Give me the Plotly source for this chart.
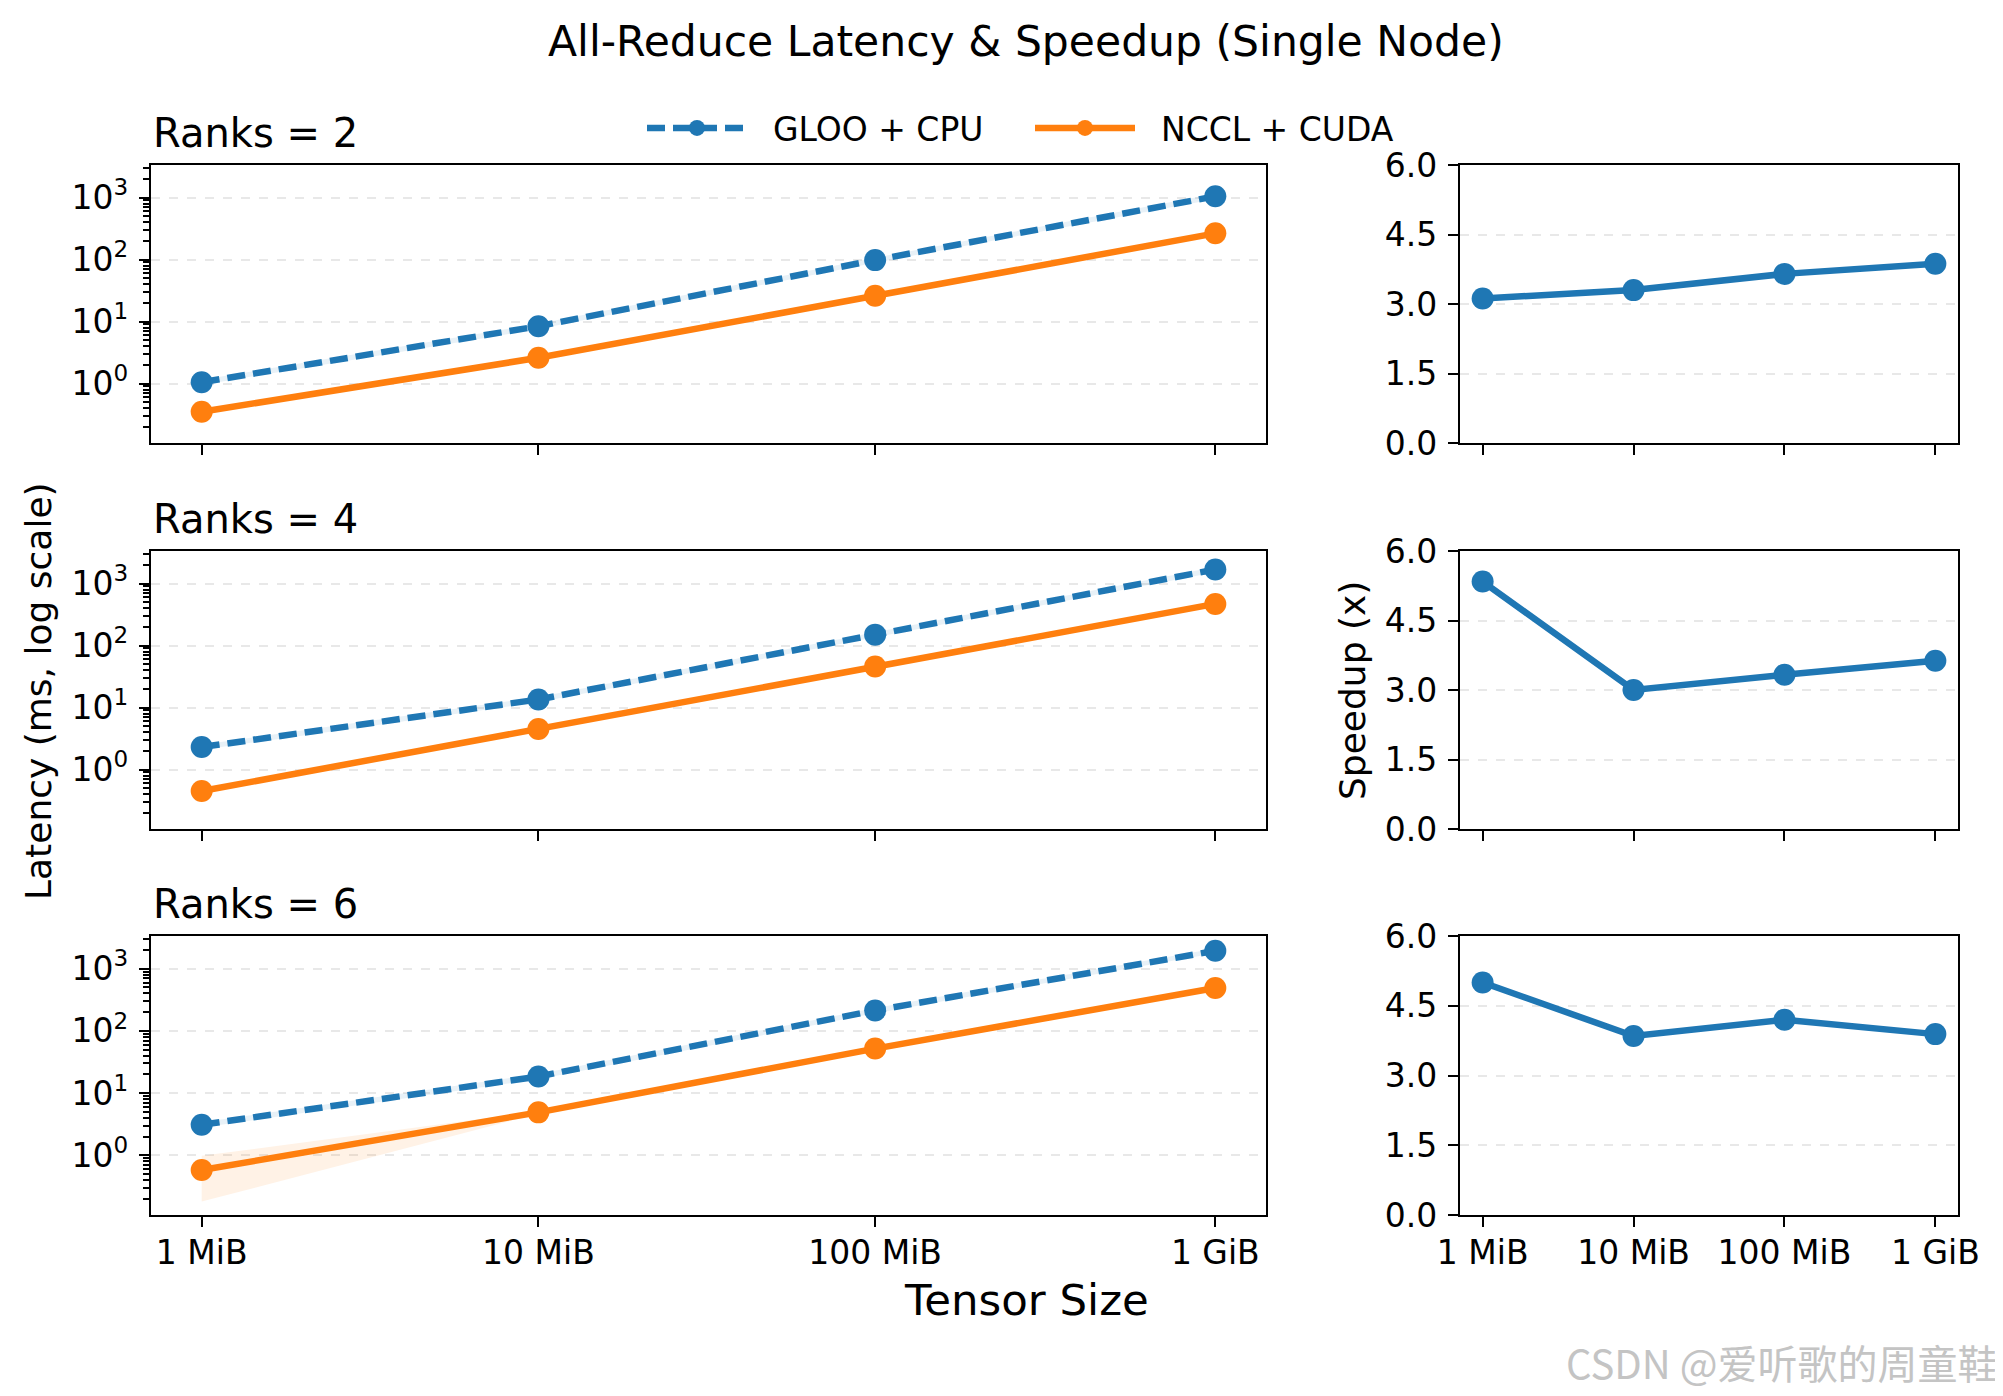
import plotly.graph_objects as go

# ---------------- data ----------------
sizes_mib = [1, 10, 100, 1024]
size_labels = ["1 MiB", "10 MiB", "100 MiB", "1 GiB"]
ranks = [2, 4, 6]

gloo_r2 = [1.05, 8.4, 98, 1050]
gloo_r4 = [2.3, 13.5, 150, 1690]
gloo_r6 = [3.1, 18.5, 213, 1940]
gloo_std_r2 = [0.1, 0.8, 9, 100]
gloo_std_r4 = [0.22, 1.3, 14, 160]
gloo_std_r6 = [0.3, 1.8, 20, 170]

nccl_r2 = [0.35, 2.6, 26, 265]
nccl_r4 = [0.45, 4.5, 46, 470]
nccl_r6 = [0.58, 4.9, 52, 490]
nccl_std_r2 = [0.02, 0.15, 1.5, 15]
nccl_std_r4 = [0.03, 0.25, 2.5, 25]
nccl_std_r6 = [0.4, 0.2, 3, 30]

speedup_r2 = [3.12, 3.30, 3.65, 3.87]
speedup_r4 = [5.34, 3.00, 3.33, 3.63]
speedup_r6 = [5.00, 3.85, 4.20, 3.89]

gloo = [gloo_r2, gloo_r4, gloo_r6]
gloo_std = [gloo_std_r2, gloo_std_r4, gloo_std_r6]
nccl = [nccl_r2, nccl_r4, nccl_r6]
nccl_std = [nccl_std_r2, nccl_std_r4, nccl_std_r6]
speedup = [speedup_r2, speedup_r4, speedup_r6]
pos_idx = list(range(len(sizes_mib)))

# ---------------- style / layout ----------------
PAGE_OFF = 8                      # default body margin of the html page
W, H = 2003 - PAGE_OFF, 1396 - PAGE_OFF
BLUE = "#1f77b4"
ORANGE = "#ff7f0e"
FONT = "DejaVu Sans"
TICK_FS = 33
LW = 6.5
MS = 22
AXW = 2.2
NB = "\u00a0\u00a0"


def fx(px):
    return (px - PAGE_OFF) / W


def fy(py):
    return 1 - (py - PAGE_OFF) / H


left_x = [fx(151), fx(1266)]
right_x = [fx(1460), fx(1958)]
rows_px = [(165, 443), (551, 829), (936, 1215)]

fig = go.Figure()
layout = dict(
    width=W, height=H, autosize=False,
    margin=dict(l=0, r=0, t=0, b=0, pad=0, autoexpand=False),
    paper_bgcolor="white", plot_bgcolor="white",
    font=dict(family=FONT, size=TICK_FS, color="black"),
    showlegend=True,
    legend=dict(orientation="h", x=fx(1030), xanchor="center", y=fy(128), yanchor="middle",
                font=dict(size=33, family=FONT), itemwidth=100, bgcolor="rgba(0,0,0,0)",
                traceorder="normal", entrywidthmode="pixels", entrywidth=273),
)

minor_vals = [k * 10 ** e for e in range(-1, 4) for k in range(2, 10)]


def axis_key(kind, i):
    return f"{kind}axis" if i == 1 else f"{kind}axis{i}"


def ref(kind, i):
    return kind if i == 1 else f"{kind}{i}"


common_axis = dict(showline=True, mirror=True, linecolor="black", linewidth=AXW,
                   ticks="outside", ticklen=10, tickwidth=AXW, tickcolor="black",
                   zeroline=False, automargin=False,
                   tickfont=dict(size=TICK_FS, family=FONT, color="black"))

for r in range(3):
    y0, y1 = rows_px[r]
    ydom = [fy(y1), fy(y0)]
    li = r * 2 + 1
    ri = r * 2 + 2
    last = (r == 2)

    layout[axis_key("x", li)] = dict(common_axis, domain=left_x, anchor=ref("y", li), type="log",
                                     range=[-0.1505, 3.1608], tickmode="array", tickvals=sizes_mib,
                                     ticktext=size_labels, showticklabels=last, showgrid=False,
                                     ticklabelstandoff=-3)
    layout[axis_key("y", li)] = dict(common_axis, domain=ydom, anchor=ref("x", li), type="log",
                                     range=[-0.96, 3.526], tickmode="array",
                                     tickvals=[1, 10, 100, 1000],
                                     ticktext=["10<sup>0</sup>", "10<sup>1</sup>", "10<sup>2</sup>", "10<sup>3</sup>"],
                                     showgrid=True, gridcolor="#e8e8e8", gridwidth=2, griddash="dash",
                                     ticklabelstandoff=4,
                                     minor=dict(tickmode="array", tickvals=minor_vals, ticks="outside",
                                                ticklen=6, tickwidth=1.7, tickcolor="black", showgrid=False))
    layout[axis_key("x", ri)] = dict(common_axis, domain=right_x, anchor=ref("y", ri),
                                     range=[-0.15, 3.15], tickmode="array", tickvals=pos_idx,
                                     ticktext=size_labels, showticklabels=last, showgrid=False,
                                     ticklabelstandoff=-3)
    layout[axis_key("y", ri)] = dict(common_axis, domain=ydom, anchor=ref("x", ri),
                                     range=[0, 6], tickmode="array", tickvals=[0, 1.5, 3, 4.5, 6],
                                     ticktext=["0.0", "1.5", "3.0", "4.5", "6.0"],
                                     showgrid=True, gridcolor="#e8e8e8", gridwidth=2, griddash="dash",
                                     ticklabelstandoff=4)

    xr, yr = ref("x", li), ref("y", li)
    # shaded +/- std bands
    for vals, std, col in [(gloo[r], gloo_std[r], "rgba(31,119,180,0.1)"),
                           (nccl[r], nccl_std[r], "rgba(255,127,14,0.1)")]:
        lo = [v - s for v, s in zip(vals, std)]
        hi = [v + s for v, s in zip(vals, std)]
        fig.add_trace(go.Scatter(x=sizes_mib, y=lo, mode="lines", line=dict(width=0),
                                 showlegend=False, hoverinfo="skip", xaxis=xr, yaxis=yr))
        fig.add_trace(go.Scatter(x=sizes_mib, y=hi, mode="lines", line=dict(width=0),
                                 fill="tonexty", fillcolor=col, showlegend=False,
                                 hoverinfo="skip", xaxis=xr, yaxis=yr))
    fig.add_trace(go.Scatter(x=sizes_mib, y=gloo[r], mode="lines+markers", name=NB + "GLOO + CPU",
                             line=dict(color=BLUE, width=LW, dash="18px,8px"),
                             marker=dict(color=BLUE, size=MS), showlegend=(r == 0),
                             xaxis=xr, yaxis=yr))
    fig.add_trace(go.Scatter(x=sizes_mib, y=nccl[r], mode="lines+markers", name=NB + "NCCL + CUDA",
                             line=dict(color=ORANGE, width=LW),
                             marker=dict(color=ORANGE, size=MS), showlegend=(r == 0),
                             xaxis=xr, yaxis=yr))
    fig.add_trace(go.Scatter(x=pos_idx, y=speedup[r], mode="lines+markers",
                             line=dict(color=BLUE, width=LW), marker=dict(color=BLUE, size=MS),
                             showlegend=False, xaxis=ref("x", ri), yaxis=ref("y", ri)))

annotations = [
    dict(text="All-Reduce Latency &amp; Speedup (Single Node)", x=fx(1026), y=fy(41),
         xref="paper", yref="paper", xanchor="center", yanchor="middle", showarrow=False,
         font=dict(size=42.5, family=FONT, color="black")),
    dict(text="Latency (ms, log scale)", x=fx(38), y=fy(691), xref="paper", yref="paper",
         xanchor="center", yanchor="middle", textangle=-90, showarrow=False,
         font=dict(size=36, family=FONT, color="black")),
    dict(text="Speedup (x)", x=fx(1352), y=fy(691), xref="paper", yref="paper",
         xanchor="center", yanchor="middle", textangle=-90, showarrow=False,
         font=dict(size=36, family=FONT, color="black")),
    dict(text="Tensor Size", x=fx(1026), y=fy(1300), xref="paper", yref="paper",
         xanchor="center", yanchor="middle", showarrow=False,
         font=dict(size=43.5, family=FONT, color="black")),
    dict(text="CSDN @爱听歌的周童鞋", x=fx(2000), y=fy(1362), xref="paper", yref="paper",
         xanchor="right", yanchor="middle", showarrow=False,
         font=dict(size=40, family="Noto Sans CJK SC", color="#c4c4c4")),
]
title_y = [133, 519, 904]
for r, rk in enumerate(ranks):
    annotations.append(dict(text=f"Ranks = {rk}", x=fx(151), y=fy(title_y[r]),
                            xref="paper", yref="paper", xanchor="left", yanchor="middle",
                            showarrow=False, font=dict(size=40, family=FONT, color="black")))
layout["annotations"] = annotations

fig.update_layout(**layout)
fig.write_html("out.html")
